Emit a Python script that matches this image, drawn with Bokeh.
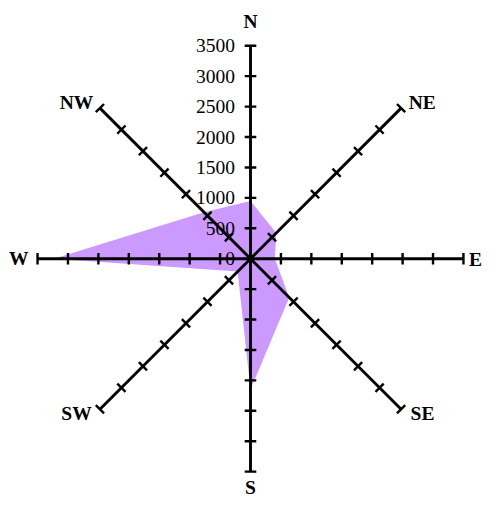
import numpy as np
from bokeh.plotting import figure
from bokeh.models import Range1d
from bokeh.embed import file_html
from bokeh.resources import INLINE
from bokeh.core.properties import value

# ---- data ----
directions = ["N", "NE", "E", "SE", "S", "SW", "W", "NW"]
counts = [950, 600, 400, 900, 2150, 300, 3230, 1080]
tick_values = [0, 500, 1000, 1500, 2000, 2500, 3000, 3500]
tick_labels = ["0", "500", "1000", "1500", "2000", "2500", "3000", "3500"]

# ---- layout ----
S = 0.968                        # fit the 499x517 design into the 483x501 canvas
R_MAX = 3500
RADIUS_PX = 220.0 * S
PX = R_MAX / RADIUS_PX           # data units per screen pixel
W, H = 483, 501
CX, CY = 250.0, 258.2            # centre of the radar within the canvas (px)
TICK_HALF = 6 * S                # px
# label anchor offsets from centre, in px (x right, y up), before scaling
label_px = {
    "N": (0, 244.7), "NE": (177.5, 161.7), "E": (232.5, -1), "SE": (177.7, -160.3),
    "S": (0, -236.5), "SW": (-179.8, -160.3), "W": (-239.3, 0), "NW": (-179.8, 161.7),
}

p = figure(width=W, height=H, output_backend="svg", toolbar_location=None,
           x_range=Range1d(-CX * PX, (W - CX) * PX),
           y_range=Range1d(-(H - CY) * PX, CY * PX),
           x_axis_location=None, y_axis_location=None,
           min_border=0, outline_line_color=None,
           background_fill_color="white", border_fill_color="white")
p.grid.visible = False

theta = np.deg2rad(90 - 45 * np.arange(len(directions)))
cos, sin = np.cos(theta), np.sin(theta)
vals = np.array(counts, dtype=float)

# filled area
p.patch(x=vals * cos, y=vals * sin, fill_color="#CC99FF", line_color=None)

# tick labels along the N axis
p.text(x=[-15.5 * PX] * len(tick_values), y=tick_values, text=tick_labels,
       text_align="right", text_baseline="middle",
       text_font=value("Liberation Serif"), text_font_size="19.5px", text_color="black")

# spokes
p.segment(x0=np.zeros(8), y0=np.zeros(8), x1=R_MAX * cos, y1=R_MAX * sin,
          line_color="black", line_width=2.9)

# tick marks
tv = np.array(tick_values[1:], dtype=float)
x0s, y0s, x1s, y1s = [], [], [], []
for c, s in zip(cos, sin):
    px_, py_ = -s * TICK_HALF * PX, c * TICK_HALF * PX
    for t in tv:
        x0s.append(t * c - px_); y0s.append(t * s - py_)
        x1s.append(t * c + px_); y1s.append(t * s + py_)
p.segment(x0=x0s, y0=y0s, x1=x1s, y1=y1s, line_color="black", line_width=2.4)

# direction labels
lx = [label_px[d][0] * S * PX for d in directions]
ly = [label_px[d][1] * S * PX for d in directions]
p.text(x=lx, y=ly, text=directions, text_align="center", text_baseline="middle",
       text_font=value("Liberation Serif"), text_font_style="bold",
       text_font_size="19.5px", text_color="black")

open("out.html", "w").write(file_html(p, INLINE))
